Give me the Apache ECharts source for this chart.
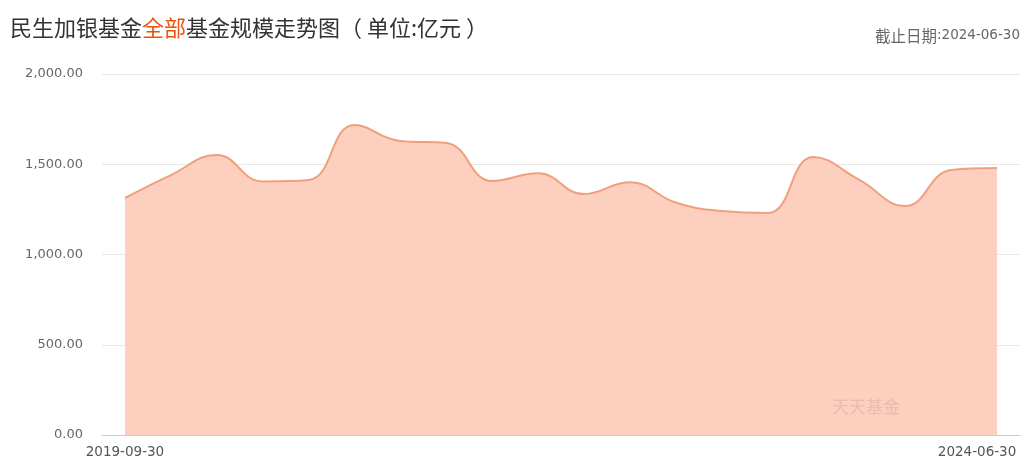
<!DOCTYPE html>
<html><head><meta charset="utf-8">
<script src="https://cdn.jsdelivr.net/npm/echarts@6/dist/echarts.min.js"></script>
<style>html,body{margin:0;padding:0;background:#fff;overflow:hidden}#c{width:1027px;height:470px}</style>
</head><body><div id="c"></div>
<script>
const categories = ["2019-09-30","2019-12-31","2020-03-31","2020-06-30","2020-09-30","2020-12-31",
"2021-03-31","2021-06-30","2021-09-30","2021-12-31","2022-03-31","2022-06-30","2022-09-30","2022-12-31",
"2023-03-31","2023-06-30","2023-09-30","2023-12-31","2024-03-31","2024-06-30"];
const scaleValues = [1313,1440,1551,1405,1413,1717,1629,1618,1407,1450,1335,1400,1288,1241,1230,1540,1413,1269,1468,1479];
const yTicks = [0,500,1000,1500,2000];
const titleText = ["民生加银基金","全部","基金规模走势图（ 单位:亿元 ）"];
const dateLabel = "截止日期";
const dateValue = ":2024-06-30";

const chart = echarts.init(document.getElementById('c'));
const CJK = '"Noto Sans CJK SC","Microsoft YaHei",sans-serif';
const NUM = '"DejaVu Sans","Noto Sans CJK SC",sans-serif';
const last = categories.length - 1;
chart.setOption({
  animation:false,
  title:[{
    text:'{a|'+titleText[0]+'}{b|'+titleText[1]+'}{a|'+titleText[2]+'}',
    left:5, top:12,
    textStyle:{rich:{
      a:{fontSize:22,color:'#333',fontFamily:CJK,fontWeight:'normal'},
      b:{fontSize:22,color:'#e8540f',fontFamily:CJK,fontWeight:'normal'}
    }}
  },{
    text:'{c|'+dateLabel+'}{d|'+dateValue+'}', right:2, top:23,
    textStyle:{rich:{
      c:{fontSize:15.5,color:'#666',fontFamily:CJK,fontWeight:'normal'},
      d:{fontSize:13.5,color:'#666',fontFamily:NUM,fontWeight:'normal'}
    }}
  }],
  grid:{left:102,right:7,top:74,bottom:35,containLabel:false,outerBoundsMode:'none'},
  xAxis:{
    type:'category', data:categories, boundaryGap:true,
    axisLine:{lineStyle:{color:'#ccc'}},
    axisTick:{alignWithLabel:true, interval:(i)=>i===0||i===last, lineStyle:{color:'#ccc'}, length:6},
    axisLabel:{interval:(i)=>i===0||i===last, color:'#555', fontSize:13.5, margin:11, fontFamily:NUM,
      overflow:'none',
      formatter:(v,i)=> i===last ? '{r|'+v+'}' : v,
      rich:{r:{fontSize:13.5, color:'#555', fontFamily:NUM, padding:[0,40,0,0]}}
    }
  },
  yAxis:{
    type:'value', min:yTicks[0], max:yTicks[yTicks.length-1], interval:500,
    axisLine:{show:false}, axisTick:{show:false},
    splitLine:{lineStyle:{color:'#e8e8e8'}},
    axisLabel:{color:'#666', fontSize:13, margin:19, fontFamily:NUM,
      formatter:(v)=>v.toLocaleString('en-US',{minimumFractionDigits:2,maximumFractionDigits:2})}
  },
  series:[{
    type:'line', data:scaleValues, smooth:0.45, symbol:'none',
    lineStyle:{color:'#f0a07f', width:2},
    areaStyle:{color:'#fdcfbe', opacity:1}
  }],
  graphic:[{
    type:'text', left:832, top:398, z:10,
    style:{text:'天天基金', fontSize:17, fill:'rgba(200,150,140,0.35)', fontFamily:CJK}
  }]
});
</script></body></html>
